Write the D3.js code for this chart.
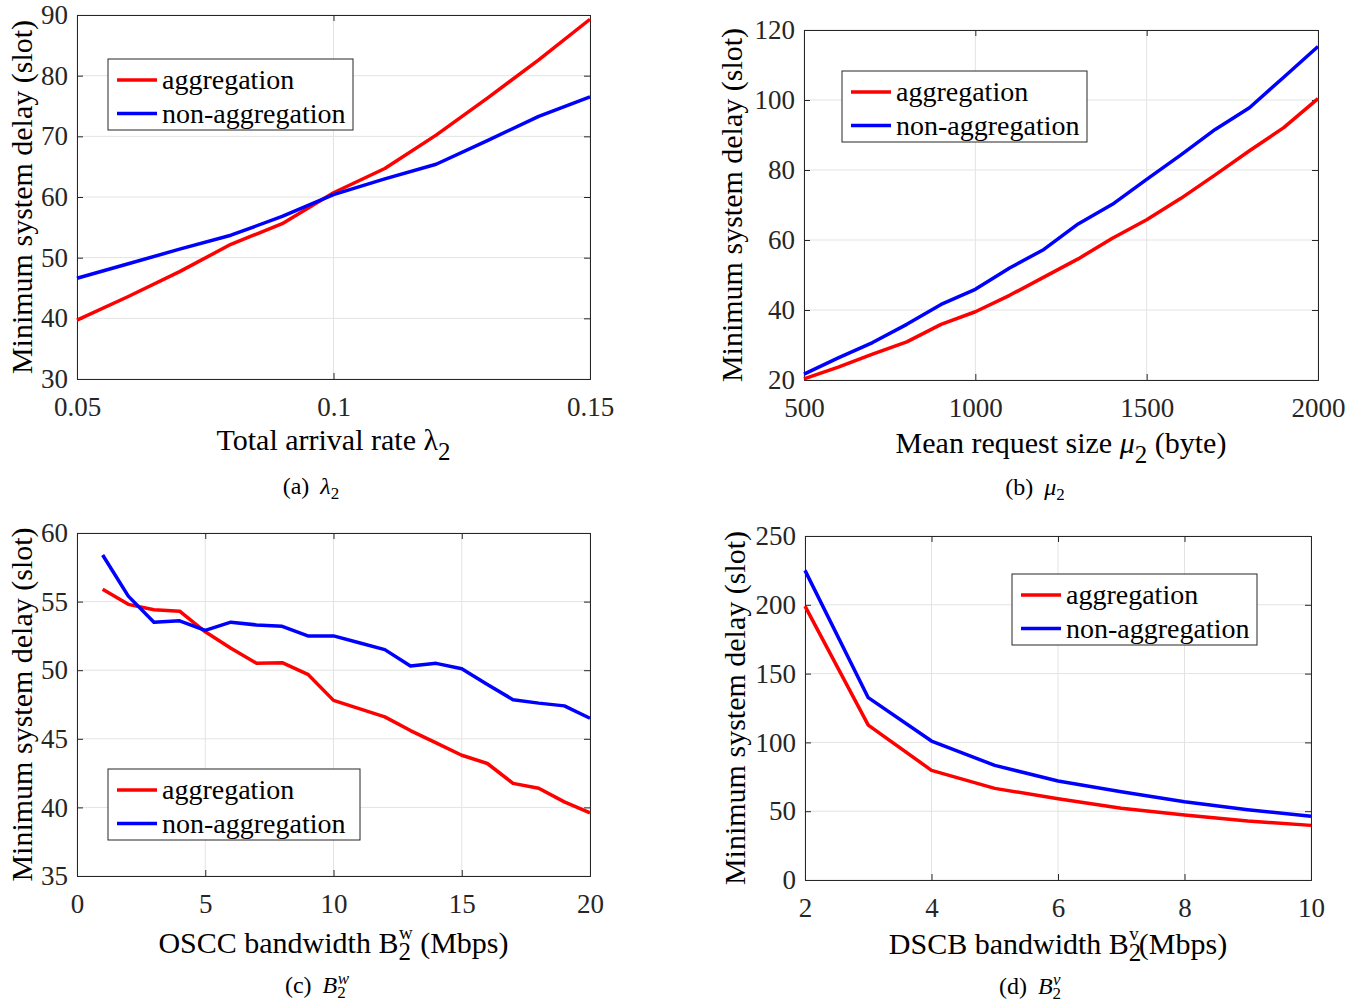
<!DOCTYPE html>
<html>
<head>
<meta charset="utf-8">
<script src="https://cdn.jsdelivr.net/npm/d3@7"></script>
<style>
  body { margin: 0; background: #fff; }
  svg { font-family: "Liberation Serif", "Times New Roman", serif; }
</style>
</head>
<body>
<svg id="chart" width="1362" height="1004"></svg>
<script>
// panel (a): total arrival rate
const lambdaX = [0.05, 0.06, 0.07, 0.08, 0.09, 0.10, 0.11, 0.12, 0.13, 0.14, 0.15];
const lambdaAgg = [39.7, 43.6, 47.7, 52.2, 55.6, 60.7, 64.7, 70.2, 76.3, 82.6, 89.3];
const lambdaNon = [46.6, 49.0, 51.4, 53.7, 56.8, 60.4, 63.0, 65.4, 69.3, 73.3, 76.5];

// panel (b): mean request size
const muX = [500, 600, 700, 800, 900, 1000, 1100, 1200, 1300, 1400, 1500, 1600, 1700, 1800, 1900, 2000];
const muAgg = [20.3, 23.7, 27.4, 30.9, 35.9, 39.5, 44.2, 49.4, 54.6, 60.5, 65.8, 71.9, 78.6, 85.5, 92.1, 100.4];
const muNon = [21.7, 26.3, 30.7, 35.9, 41.6, 45.9, 52.0, 57.3, 64.6, 70.2, 77.3, 84.3, 91.6, 97.8, 106.5, 115.3];

// panel (c): OSCC bandwidth
const bwX = [1, 2, 3, 4, 5, 6, 7, 8, 9, 10, 11, 12, 13, 14, 15, 16, 17, 18, 19, 20];
const bwAgg = [55.9, 54.8, 54.4, 54.3, 52.8, 51.6, 50.5, 50.55, 49.7, 47.8, 47.2, 46.6, 45.6, 44.7, 43.8, 43.2, 41.75, 41.4, 40.4, 39.6];
const bwNon = [58.4, 55.4, 53.5, 53.6, 52.9, 53.5, 53.3, 53.2, 52.5, 52.5, 52.0, 51.5, 50.3, 50.5, 50.1, 48.95, 47.85, 47.6, 47.4, 46.5];

// panel (d): DSCB bandwidth
const bvX = [2, 3, 4, 5, 6, 7, 8, 9, 10];
const bvAgg = [199, 112.6, 79.7, 66.6, 59.1, 52.1, 47.2, 42.9, 39.7];
const bvNon = [225, 132.5, 101, 83.3, 71.9, 64.2, 56.9, 51.1, 46.3];

const seriesNames = ["aggregation", "non-aggregation"];
const seriesColors = ["#ff0000", "#0000ff"];

const svg = d3.select("#chart");

function drawPanel(p) {
    const x = d3.scaleLinear().domain(p.xDomain).range([p.left, p.right]);
    const y = d3.scaleLinear().domain(p.yDomain).range([p.bottom, p.top]);
    const g = svg.append("g");

    // grid
    g.selectAll(".gx").data(p.xTicks).enter().append("line")
        .attr("x1", d => x(d)).attr("x2", d => x(d))
        .attr("y1", p.top).attr("y2", p.bottom)
        .attr("stroke", "#e3e3e3").attr("stroke-width", 1);
    g.selectAll(".gy").data(p.yTicks).enter().append("line")
        .attr("x1", p.left).attr("x2", p.right)
        .attr("y1", d => y(d)).attr("y2", d => y(d))
        .attr("stroke", "#e3e3e3").attr("stroke-width", 1);

    // axes (ticks inward, mirrored)
    const tl = 6;
    const axL = d3.axisLeft(y).tickValues(p.yTicks).tickSize(-tl).tickPadding(9).tickFormat(d3.format("d"));
    const axR = d3.axisRight(y).tickValues(p.yTicks).tickSize(-tl).tickFormat("");
    const axB = d3.axisBottom(x).tickValues(p.xTicks).tickSize(-tl).tickPadding(18).tickFormat(p.xFormat);
    const axT = d3.axisTop(x).tickValues(p.xTicks).tickSize(-tl).tickFormat("");
    [[axL, `translate(${p.left},0)`], [axR, `translate(${p.right},0)`],
     [axB, `translate(0,${p.bottom})`], [axT, `translate(0,${p.top})`]].forEach(([ax, tr]) => {
        const a = g.append("g").attr("transform", tr).call(ax);
        a.attr("font-family", null);
        a.select(".domain").attr("stroke", "#262626");
        a.selectAll(".tick line").attr("stroke", "#262626");
        a.selectAll("text").attr("fill", "#262626")
            .style("font-size", "27px");
    });

    // lines
    const line = d3.line().x(d => x(d[0])).y(d => y(d[1]));
    [p.agg, p.non].forEach((vals, i) => {
        g.append("path")
            .datum(p.xs.map((v, j) => [v, vals[j]]))
            .attr("d", line)
            .attr("fill", "none")
            .attr("stroke", seriesColors[i])
            .attr("stroke-width", 3.5)
            .attr("stroke-linejoin", "round");
    });

    // legend
    const lg = g.append("g").attr("transform", `translate(${p.legend[0]},${p.legend[1]})`);
    lg.append("rect").attr("x", 0).attr("y", 0).attr("width", p.legendW).attr("height", 71)
        .attr("fill", "#fff").attr("stroke", "#262626").attr("stroke-width", 1);
    seriesNames.forEach((name, i) => {
        const ry = 21 + i * 33.5;
        lg.append("line").attr("x1", 9).attr("x2", 49).attr("y1", ry).attr("y2", ry)
            .attr("stroke", seriesColors[i]).attr("stroke-width", 3.5);
        lg.append("text").attr("x", 54).attr("y", ry + 9).text(name)
            .style("font-size", "28px").attr("fill", "#000");
    });

    // y label
    g.append("text")
        .attr("transform", `translate(${p.left - p.yLabelOff},${(p.top + p.bottom) / 2}) rotate(-90)`)
        .attr("text-anchor", "middle")
        .style("font-size", "30px")
        .text("Minimum system delay (slot)");

    // x label
    const xl = g.append("text")
        .attr("x", (p.left + p.right) / 2).attr("y", p.bottom + p.xLabelDy)
        .attr("text-anchor", "middle").style("font-size", "30px");
    p.xLabel(xl);

    // caption
    const cp = g.append("text")
        .attr("x", p.captionX).attr("y", p.bottom + p.captionDy)
        .attr("text-anchor", "middle").style("font-size", "24px");
    p.caption(cp);
}

const fmtGen = d => d3.format("")(d);

function subSup(t, sup) {
    t.append("tspan").attr("dy", 7).style("font-size", "25px").text("2");
    t.append("tspan").attr("dx", -12).attr("dy", -21).style("font-size", "19px").text(sup);
}

function capSubSup(t, sup) {
    t.append("tspan").attr("dy", 5).style("font-size", "17px").text("2");
    t.append("tspan").attr("dx", -8).attr("dy", -14).style("font-size", "17px").style("font-style", "italic").text(sup);
}

drawPanel({
    left: 77, right: 590, top: 15, bottom: 379,
    xDomain: [0.05, 0.15], yDomain: [30, 90],
    xTicks: [0.05, 0.1, 0.15], yTicks: [30, 40, 50, 60, 70, 80, 90],
    xFormat: fmtGen, xs: lambdaX, agg: lambdaAgg, non: lambdaNon,
    legend: [108, 59], legendW: 245, yLabelOff: 45,
    xLabelDy: 71, captionX: 311, captionDy: 115,
    xLabel: t => {
        t.append("tspan").text("Total arrival rate ");
        t.append("tspan").text("λ");
        t.append("tspan").attr("dy", 10).style("font-size", "25px").text("2");
    },
    caption: t => {
        t.append("tspan").text("(a) ");
        t.append("tspan").attr("dx", 5).style("font-style", "italic").text("λ");
        t.append("tspan").attr("dy", 5).style("font-size", "17px").text("2");
    }
});

drawPanel({
    left: 804, right: 1318, top: 30, bottom: 380,
    xDomain: [500, 2000], yDomain: [20, 120],
    xTicks: [500, 1000, 1500, 2000], yTicks: [20, 40, 60, 80, 100, 120],
    xFormat: fmtGen, xs: muX, agg: muAgg, non: muNon,
    legend: [842, 71], legendW: 245, yLabelOff: 62,
    xLabelDy: 73, captionX: 1035, captionDy: 115,
    xLabel: t => {
        t.append("tspan").text("Mean request size ");
        t.append("tspan").style("font-style", "italic").text("μ");
        t.append("tspan").attr("dy", 10).style("font-size", "25px").text("2");
        t.append("tspan").attr("dy", -10).text(" (byte)");
    },
    caption: t => {
        t.append("tspan").text("(b) ");
        t.append("tspan").attr("dx", 5).style("font-style", "italic").text("μ");
        t.append("tspan").attr("dy", 5).style("font-size", "17px").text("2");
    }
});

drawPanel({
    left: 77, right: 590, top: 533, bottom: 876,
    xDomain: [0, 20], yDomain: [35, 60],
    xTicks: [0, 5, 10, 15, 20], yTicks: [35, 40, 45, 50, 55, 60],
    xFormat: fmtGen, xs: bwX, agg: bwAgg, non: bwNon,
    legend: [108, 769], legendW: 252, yLabelOff: 45,
    xLabelDy: 77, captionX: 317, captionDy: 117,
    xLabel: t => {
        t.append("tspan").text("OSCC bandwidth B");
        subSup(t, "w");
        t.append("tspan").attr("dy", 14).text(" (Mbps)");
    },
    caption: t => {
        t.append("tspan").text("(c) ");
        t.append("tspan").attr("dx", 5).style("font-style", "italic").text("B");
        capSubSup(t, "w");
    }
});

drawPanel({
    left: 805, right: 1311, top: 536, bottom: 880,
    xDomain: [2, 10], yDomain: [0, 250],
    xTicks: [2, 4, 6, 8, 10], yTicks: [0, 50, 100, 150, 200, 250],
    xFormat: fmtGen, xs: bvX, agg: bvAgg, non: bvNon,
    legend: [1012, 574], legendW: 245, yLabelOff: 60,
    xLabelDy: 74, captionX: 1030, captionDy: 114,
    xLabel: t => {
        t.append("tspan").text("DSCB bandwidth B");
        subSup(t, "v");
        t.append("tspan").attr("dy", 14).text("(Mbps)");
    },
    caption: t => {
        t.append("tspan").text("(d) ");
        t.append("tspan").attr("dx", 5).style("font-style", "italic").text("B");
        capSubSup(t, "v");
    }
});
</script>
</body>
</html>
